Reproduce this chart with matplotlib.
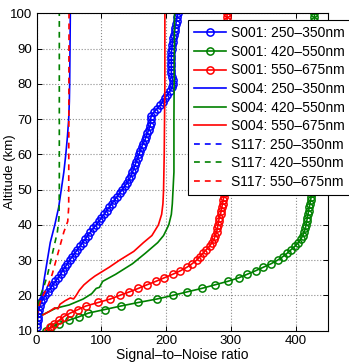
import matplotlib
matplotlib.use("Agg")
import matplotlib.pyplot as plt

plt.rcParams['font.family'] = ['Liberation Sans', 'DejaVu Sans']

# ---------------- data ----------------
alt_s001 = list(range(10, 101))

snr_s001_blue = [None,
    0.5, 1, 1.5, 2, 2.5, 3, 5, 7, 10, 13,
    17, 21, 25, 29, 33, 37, 40, 44, 47, 51,
    55, 59, 63, 67, 71, 75, 79, 83, 87, 92,
    96, 100, 104, 108, 112, 116, 120, 124, 128, 132,
    136, 140, 143, 146, 148, 150, 152, 154, 156, 158,
    160, 162, 164, 167, 169, 171, 173, 175, 176, 176,
    177, 181, 186, 191, 195, 198, 202, 206, 209, 210,
    210, 209, 208, 208, 208, 208, 208, 208, 208, 209,
    209, 210, 211, 212, 213, 214, 215, 216, 217, 218]

snr_s001_green = [15,
    22, 35, 50, 66, 80, 105, 130, 157, 186, 210,
    232, 255, 275, 295, 312, 325, 338, 350, 362, 372,
    380, 387, 393, 399, 404, 408, 411, 413, 415, 416,
    417, 418, 419, 420, 421, 422, 423, 424, 425, 425,
    426, 426, 426, 427, 427, 427, 427, 428, 428, 428,
    428, 428, 428, 428, 428, 428, 428, 428, 428, 428,
    428, 428, 428, 428, 428, 428, 428, 428, 428, 428,
    428, 428, 428, 428, 428, 428, 428, 428, 428, 428,
    429, 429, 429, 429, 429, 429, 429, 429, 429, 429]

snr_s001_red = [18,
    21, 27, 35, 42, 52, 64, 76, 95, 114, 128,
    143, 157, 170, 184, 197, 210, 222, 232, 240, 247,
    252, 257, 262, 267, 271, 274, 276, 278, 279, 280,
    281, 282, 284, 285, 286, 287, 288, 289, 290, 290,
    291, 292, 292, 292, 292, 292, 292, 292, 292, 292,
    292, 292, 292, 292, 292, 293, 293, 293, 293, 293,
    293, 293, 293, 293, 293, 293, 293, 293, 293, 293,
    293, 293, 293, 293, 293, 293, 293, 293, 293, 293,
    294, 294, 294, 294, 294, 294, 294, 294, 294, 294]

alt_s004_blue = [12, 14, 16, 18, 20, 25, 30, 35, 40, 45, 50, 55, 60, 65, 70, 75, 80, 90, 100]
snr_s004_blue = [0, 1, 3, 6.5, 8, 12, 16.5, 21, 28, 34, 38, 42, 45, 47.5, 49.5, 50.5, 51, 51.5, 52]

alt_s004_green = [14.5, 16.4, 17.3, 19.0, 20.5, 22.0, 22.3, 24.0, 26.0, 29.0, 32.0, 35.0, 37.0,
                  40.0, 43.0, 46.0, 55.0, 70.0, 100.0]
snr_s004_green = [9, 30, 50, 72, 85, 92, 97, 102, 122, 148, 168, 187, 196,
                  204, 208, 209.5, 212, 212, 213]

alt_s004_red = [14.5, 15.5, 16.5, 16.2, 17.5, 18.5, 19.3, 19.0, 20.0, 21.5, 23.0, 24.4,
                25.5, 28.0, 30.0, 32.5, 35.0, 37.0, 40.0, 43.0, 46.0, 50.0, 60.0, 80.0, 100.0]
snr_s004_red = [10, 20, 28, 33, 36, 44, 52, 57, 61, 66, 73, 82,
                90, 112, 128, 150, 165, 178, 188, 193, 195, 196, 197, 198, 198]

alt_s117_blue = [12, 100]
snr_s117_blue = [0.5, 0.5]

alt_s117_green = [14, 17, 20, 23, 26, 30, 34, 38, 42, 50, 100]
snr_s117_green = [0, 2, 6, 12, 17, 22, 27, 32, 34.5, 35, 35]

alt_s117_red = [14, 17.8, 20, 22.5, 26, 30, 34, 38, 41, 45, 100]
snr_s117_red = [0, 5, 10, 17, 24, 30, 36, 42, 48, 49.5, 50]

labels = ['S001: 250–350nm', 'S001: 420–550nm', 'S001: 550–675nm',
          'S004: 250–350nm', 'S004: 420–550nm', 'S004: 550–675nm',
          'S117: 250–350nm', 'S117: 420–550nm', 'S117: 550–675nm']

BLUE = (0, 0, 1)
GREEN = (0, 0.5, 0)
RED = (1, 0, 0)

# ---------------- figure ----------------
fig = plt.figure(figsize=(3.49, 3.64), dpi=100)
ax = fig.add_axes([0.105, 0.0915, 0.835, 0.8715])

lw = 1.2
mk = dict(marker='o', markersize=5.2, markerfacecolor='none', markeredgewidth=1.1)

def clean(a, v):
    pairs = [(x, y) for x, y in zip(v, a) if x is not None]
    return [p[0] for p in pairs], [p[1] for p in pairs]

x, y = clean(alt_s001, snr_s001_blue)
ax.plot(x, y, color=BLUE, lw=lw, label=labels[0], **mk)
ax.plot(snr_s001_green, alt_s001, color=GREEN, lw=lw, label=labels[1], **mk)
ax.plot(snr_s001_red, alt_s001, color=RED, lw=lw, label=labels[2], **mk)
ax.plot(snr_s004_blue, alt_s004_blue, color=BLUE, lw=lw, label=labels[3])
ax.plot(snr_s004_green, alt_s004_green, color=GREEN, lw=lw, label=labels[4])
ax.plot(snr_s004_red, alt_s004_red, color=RED, lw=lw, label=labels[5])
ax.plot(snr_s117_blue, alt_s117_blue, color=BLUE, lw=lw, ls=(0, (3.5, 3)), label=labels[6])
ax.plot(snr_s117_green, alt_s117_green, color=GREEN, lw=lw, ls=(0, (3.5, 3)), label=labels[7])
ax.plot(snr_s117_red, alt_s117_red, color=RED, lw=lw, ls=(0, (3.5, 3)), label=labels[8])

ax.set_xlim(0, 450)
ax.set_ylim(10, 100)
ax.set_xticks([0, 100, 200, 300, 400])
ax.set_yticks(range(10, 101, 10))
ax.tick_params(direction='in', top=True, right=True, length=3.5, width=0.7,
               labelsize=9.5, pad=3)
ax.grid(True, ls=':', color='0.55', lw=0.8)
for s in ax.spines.values():
    s.set_linewidth(0.8)
ax.set_xlabel('Signal–to–Noise ratio', fontsize=10, labelpad=1)
ax.set_ylabel('Altitude (km)', fontsize=9.5)
ax.yaxis.set_label_coords(-0.072, 0.5)

leg = fig.legend(loc='upper left', bbox_to_anchor=(188 / 349, 1 - 20 / 364),
                 fontsize=10, frameon=True, fancybox=False, framealpha=1,
                 edgecolor='black', borderaxespad=0, labelspacing=0.33,
                 handlelength=2.3, handletextpad=0.35, borderpad=0.45,
                 numpoints=1)
leg.get_frame().set_linewidth(0.8)

fig.savefig('out.png', dpi=100)
